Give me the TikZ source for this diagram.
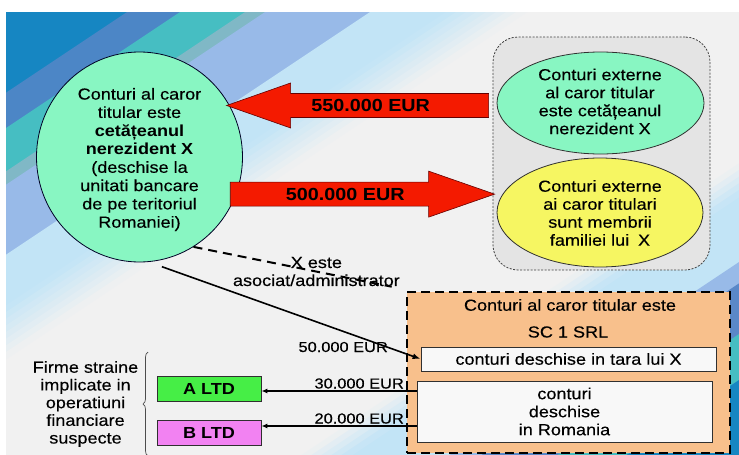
\documentclass[tikz,border=0pt]{standalone}
\usepackage{fontspec}
\setmainfont{Liberation Sans}[FakeStretch=1.13, UprightFeatures={FakeBold=0.3}]
\usetikzlibrary{arrows.meta,calc,shapes.geometric,decorations.pathreplacing}

% background bands
\definecolor{bgBlue}{HTML}{1686C2}
\definecolor{bgSteel}{HTML}{4C86C6}
\definecolor{bgSteelB}{HTML}{5A88C8}
\definecolor{bgTeal}{HTML}{46BEC2}
\definecolor{bgGreyTeal}{HTML}{80B8C6}
\definecolor{bgPeri}{HTML}{98BAE8}
\definecolor{bgLight}{HTML}{C2E4F6}
\definecolor{bgGrey}{HTML}{F1F1F1}
% shapes
\definecolor{mint}{HTML}{88F6C2}
\definecolor{lemon}{HTML}{F6F662}
\definecolor{arrowRed}{HTML}{F41A00}
\definecolor{peach}{HTML}{F8C08C}
\definecolor{groupGrey}{HTML}{E4E4E4}
\definecolor{ltdGreen}{HTML}{46EE46}
\definecolor{ltdPink}{HTML}{F282F2}
\definecolor{boxWhite}{HTML}{F8F8F8}
\definecolor{edge}{HTML}{303030}

\tikzset{
  txt/.style={font=\fontsize{16}{18}\selectfont, align=center, inner sep=0pt, text=black},
  smalltxt/.style={font=\fontsize{14.5}{16}\selectfont, inner sep=0pt, text=black},
  boldtxt/.style={font=\fontsize{17.5}{19}\selectfont\bfseries, inner sep=0pt, text=black},
  oval/.style={ellipse, draw=edge, line width=0.8pt, inner sep=0pt},
  groupbox/.style={draw=black!75, fill=groupGrey, line width=0.8pt,
    dash pattern=on 2pt off 1.5pt, rounded corners=25pt, inner sep=0pt},
  scbox/.style={draw=black, fill=peach, line width=2.6pt,
    dash pattern=on 9pt off 5pt, inner sep=0pt},
  wbox/.style={txt, draw=edge, fill=boxWhite, line width=0.8pt},
  ltdbox/.style={txt, draw=edge, line width=0.8pt, minimum width=104pt, minimum height=25pt},
  redarrow/.style={fill=arrowRed, draw=black!60!red, line width=0.6pt, line join=miter},
  dashconn/.style={draw=black, line width=2pt, dash pattern=on 9pt off 6pt},
  solidarrow/.style={draw=black, line width=1.6pt, -{Latex[length=8pt,width=6pt]}},
  thinarrow/.style={draw=black, line width=1.3pt, -{Latex[length=6pt,width=5pt]}},
}

\begin{document}
\begin{tikzpicture}[x=1pt,y=-1pt]
\useasboundingbox (0,0) rectangle (739,455);
\fill[white] (0,0) rectangle (739,455);

% diagonal colour bands of the backdrop
\begin{scope}
  \clip (6,12) rectangle (739,455);
  \fill[bgGrey] (6,12) rectangle (739,455);
  \foreach \ua/\ub/\col in {-60/121/bgBlue, 121/174/bgSteel, 174/239/bgTeal,
      239/259/bgGreyTeal, 259/364/bgPeri, 364/440/bgLight,
      1010/1108/bgLight, 1108/1140/bgPeri, 1140/1216/bgSteelB,
      1216/1285/bgTeal, 1285/1460/bgBlue}{
    \fill[\col] ({\ua+99},-50) -- ({\ub+100},-50) -- ({\ub-755},520) -- ({\ua-756},520) -- cycle;
  }
  \foreach \i in {0,...,7}{
    \pgfmathsetmacro\ua{440+10*\i}
    \pgfmathsetmacro\ub{\ua+10}
    \pgfmathsetmacro\p{93.75-12.5*\i}
    \fill[bgLight!\p!bgGrey] ({\ua+99},-50) -- ({\ub+100},-50) -- ({\ub-755},520) -- ({\ua-756},520) -- cycle;
  }
  \foreach \i in {0,...,4}{
    \pgfmathsetmacro\ua{960+10*\i}
    \pgfmathsetmacro\ub{\ua+10}
    \pgfmathsetmacro\p{10+20*\i}
    \fill[bgLight!\p!bgGrey] ({\ua+99},-50) -- ({\ub+100},-50) -- ({\ub-755},520) -- ({\ua-756},520) -- cycle;
  }
\end{scope}

% foreign accounts group
\node[groupbox, minimum width=217pt, minimum height=233pt] (grp) at (601.5,153.5) {};
\node[oval, fill=mint, minimum width=207pt, minimum height=102pt] (e1) at (600.5,103) {};
\node[oval, fill=lemon, minimum width=206pt, minimum height=109pt] (e2) at (600,212.5) {};
\node[txt] (e1t) at (600,101.5) {Conturi externe\\al caror titular\\este cetățeanul\\nerezident X};
\node[txt] (e2t) at (600,213) {Conturi externe\\ai caror titulari\\sunt membrii\\familiei lui\hspace{0.55em}X};

% accounts of X in Romania
\node[ellipse, draw=black!85!blue, fill=mint, line width=0.8pt, inner sep=0pt,
      minimum width=206pt, minimum height=210pt] (big) at (139.5,157) {};
\node[txt, font=\fontsize{16}{18.3}\selectfont] (bigt) at (139.5,159.5)
  {Conturi al caror\\titular este\\\textbf{cetățeanul}\\\textbf{nerezident X}\\(deschise la\\unitati bancare\\de pe teritoriul\\Romaniei)};

% money flows between X's accounts
\path (big.31) ++(-2,2) coordinate (tip1);
\path (grp.west |- tip1) ++(-4,0) coordinate (tail1);
\draw[redarrow] (tip1) -- ++(64,-22.5) -- ++(0,10.5) -- ($(tail1)+(0,-12)$) -- ++(0,24)
  -- ($(tip1)+(64,12)$) -- ++(0,10.5) -- cycle;
\node[boldtxt] (l550) at ($(tip1)!0.55!(tail1)$) {550.000 EUR};

\path (big.-21.5) ++(-6,0) coordinate (tail2);
\path (grp.west |- big.-21.5) ++(2,0) coordinate (tip2);
\draw[redarrow] (tail2) -- ++(0,-12) -- ($(tip2)+(-66,-12)$) -- ++(0,-11) -- (tip2)
  -- ++(-66,23) -- ++(0,-11) -- ($(tail2)+(0,12)$) -- cycle;
\node[boldtxt] (l500) at ($(tail2)!0.435!(tip2)$) {500.000 EUR};

% company SC 1 SRL
\node[scbox, minimum width=323pt, minimum height=161pt] (sc) at (568.5,372.5) {};
\node[txt] (sct1) at (570,305) {Conturi al caror titular este};
\node[txt] (sct2) at (568,332) {SC 1 SRL};
\node[wbox, minimum width=295pt, minimum height=24pt] (in1) at (568.5,359) {conturi deschise in tara lui X};
\node[wbox, minimum width=295pt, minimum height=61pt] (in2) at (564.5,411.5) {conturi\\deschise\\in Romania};

% association link and transfer to the company abroad
\coordinate (scEnd) at ($(sc.north west)+(-14,-4)$);
\draw[dashconn] (big.-59) -- (scEnd);
\node[txt] (assoc) at ($(big.-59)!0.62!(scEnd)$) {X este\\asociat/administrator};
\draw[solidarrow, shorten <=14pt] (big.-85.5) -- (in1.west);
\node[smalltxt, anchor=base east] (l50) at (388,352) {50.000 EUR};

% suspicious foreign firms
\node[ltdbox, fill=ltdGreen] (A) at (209,388.5) {\textbf{A LTD}};
\node[ltdbox, fill=ltdPink] (B) at (209,433) {\textbf{B LTD}};
\path (A.east) ++(0,2.5) coordinate (aIn);
\path (B.east) ++(0,-7) coordinate (bIn);
\draw[thinarrow] (aIn -| in2.west) -- (aIn);
\draw[thinarrow] (bIn -| in2.west) -- (bIn);
\node[smalltxt, anchor=base east] (l30) at (404,388.5) {30.000 EUR};
\node[smalltxt, anchor=base east] (l20) at (404,423.5) {20.000 EUR};

\draw[decorate, decoration={brace, amplitude=5pt}, draw=black!70, line width=0.7pt]
  (148,456) -- (148,352);
\node[txt, font=\fontsize{16}{17.7}\selectfont] (firms) at (85.5,404)
  {Firme straine\\implicate in\\operatiuni\\financiare\\suspecte};
\end{tikzpicture}
\end{document}
